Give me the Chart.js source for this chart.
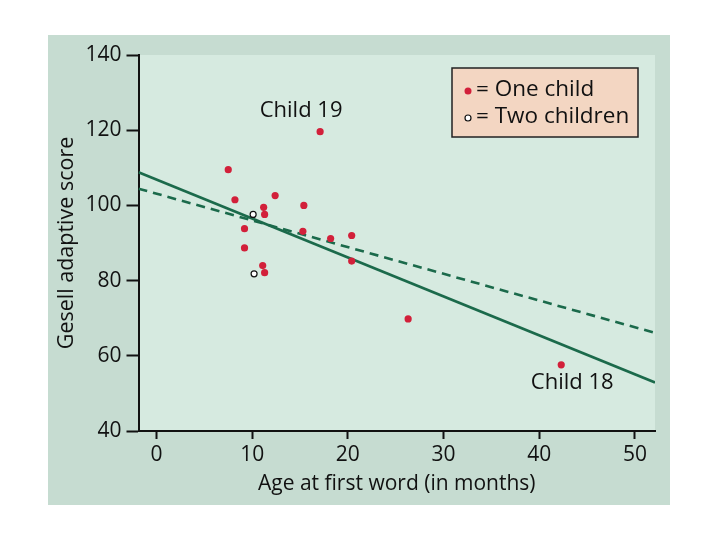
<!DOCTYPE html>
<html>
<head>
<meta charset="utf-8">
<script src="https://cdn.jsdelivr.net/npm/chart.js@4"></script>
<style>
html,body{margin:0;padding:0;background:#ffffff;}
#wrap{width:720px;height:540px;}
</style>
</head>
<body>
<div id="wrap"><canvas id="c" width="720" height="540"></canvas></div>
<script>
// ---- data ----
const oneChildAge   = [7.5, 8.2, 12.4, 11.2, 11.3, 15.4, 9.2, 15.3, 18.2, 20.4, 9.2, 20.4, 11.1, 11.3, 17.1, 26.3, 42.3];
const oneChildScore = [109.5, 101.5, 102.6, 99.5, 97.6, 100.0, 93.8, 93.1, 91.2, 92.0, 88.7, 85.2, 84.0, 82.1, 119.6, 69.8, 57.6];
const twoChildAge   = [10.1, 10.2];
const twoChildScore = [97.6, 81.8];
const fitAllX   = [-1.88, 52.1];
const fitAllY   = [108.8, 52.9];
const fitDashX  = [-1.88, 52.1];
const fitDashY  = [104.45, 66.1];
const xTickValues = [0, 10, 20, 30, 40, 50];
const yTickValues = [40, 60, 80, 100, 120, 140];
const annotationLabels = ['Child 19', 'Child 18'];
const annotationIndex  = [14, 16];
const legendLabels = ['= One child', '= Two children'];
const xTitle = 'Age at first word (in months)';
const yTitle = 'Gesell adaptive score';

const FONT = "'Open Sans', 'Noto Sans', sans-serif";
const RED = '#d2203a';
const GREEN = '#1b6a4b';

const toPts = (xs, ys) => xs.map((x, i) => ({x: x, y: ys[i]}));

const bgPlugin = {
  id: 'bg',
  beforeDraw(chart) {
    const {ctx, chartArea: a} = chart;
    ctx.save();
    ctx.fillStyle = '#ffffff';
    ctx.fillRect(0, 0, chart.width, chart.height);
    ctx.fillStyle = '#c6dcd1';
    ctx.fillRect(48, 35, 622, 470);
    ctx.fillStyle = '#d6eae0';
    ctx.fillRect(a.left, a.top, a.right - a.left, a.bottom - a.top);
    ctx.restore();
  }
};

const textPlugin = {
  id: 'texts',
  afterDraw(chart) {
    const {ctx} = chart;
    const xs = chart.scales.x, ys = chart.scales.y;
    ctx.save();
    // annotations
    const offs = [[-19, -21], [11, 18]];
    ctx.font = '22px ' + FONT;
    ctx.fillStyle = '#111';
    ctx.textAlign = 'center';
    ctx.textBaseline = 'middle';
    annotationLabels.forEach((t, k) => {
      const i = annotationIndex[k];
      const px = xs.getPixelForValue(oneChildAge[i]);
      const py = ys.getPixelForValue(oneChildScore[i]);
      ctx.fillText(t, px + offs[k][0], py + offs[k][1]);
    });
    // legend
    ctx.fillStyle = '#f3d6c2';
    ctx.fillRect(452, 68, 186, 69);
    ctx.strokeStyle = '#222';
    ctx.lineWidth = 1.5;
    ctx.strokeRect(452, 68, 186, 69);
    ctx.fillStyle = RED;
    ctx.beginPath(); ctx.arc(468, 91, 3.5, 0, Math.PI * 2); ctx.fill();
    ctx.fillStyle = '#ffffff';
    ctx.strokeStyle = '#111';
    ctx.lineWidth = 1.2;
    ctx.beginPath(); ctx.arc(468, 118, 3, 0, Math.PI * 2); ctx.fill(); ctx.stroke();
    ctx.fillStyle = '#111';
    ctx.textAlign = 'left';
    ctx.font = '22.5px ' + FONT;
    ctx.fillText(legendLabels[0], 476, 90);
    ctx.fillText(legendLabels[1], 476, 117);
    ctx.restore();
  }
};

new Chart(document.getElementById('c'), {
  type: 'scatter',
  data: {
    datasets: [
      {
        label: 'One child',
        data: toPts(oneChildAge, oneChildScore),
        backgroundColor: RED,
        borderColor: RED,
        borderWidth: 0,
        pointRadius: 3.6
      },
      {
        label: 'Two children',
        data: toPts(twoChildAge, twoChildScore),
        backgroundColor: '#ffffff',
        borderColor: '#111',
        borderWidth: 1.2,
        pointRadius: 3
      },
      {
        label: 'Fit (all)',
        type: 'line',
        data: toPts(fitAllX, fitAllY),
        borderColor: GREEN,
        borderWidth: 2.6,
        pointRadius: 0,
        fill: false
      },
      {
        label: 'Fit (dashed)',
        type: 'line',
        data: toPts(fitDashX, fitDashY),
        borderColor: GREEN,
        borderWidth: 2.6,
        borderDash: [9, 6],
        pointRadius: 0,
        fill: false
      }
    ]
  },
  options: {
    responsive: false,
    animation: false,
    devicePixelRatio: 1,
    layout: {padding: {left: 48, right: 65, top: 55, bottom: 35}},
    plugins: {legend: {display: false}, tooltip: {enabled: false}},
    scales: {
      x: {
        type: 'linear',
        min: -1.88,
        max: 52.1,
        afterBuildTicks(s) { s.ticks = xTickValues.map(v => ({value: v})); },
        afterFit(s) { s.height = 74; },
        grid: {drawOnChartArea: false, drawTicks: true, tickLength: 8, tickColor: '#111', tickWidth: 2},
        border: {display: true, color: '#111', width: 2},
        ticks: {color: '#111', font: {family: FONT, size: 21}, padding: 3, maxRotation: 0},
        title: {display: true, text: xTitle, color: '#111', font: {family: FONT, size: 21}, padding: {top: 0, bottom: 8}}
      },
      y: {
        type: 'linear',
        min: 40,
        max: 140,
        afterBuildTicks(s) { s.ticks = yTickValues.map(v => ({value: v})); },
        afterFit(s) { s.width = 90.5; },
        grid: {drawOnChartArea: false, drawTicks: true, tickLength: 12, tickColor: '#111', tickWidth: 2},
        border: {display: true, color: '#111', width: 2},
        ticks: {color: '#111', font: {family: FONT, size: 21}, padding: 5},
        title: {display: true, text: yTitle, color: '#111', font: {family: FONT, size: 21.5}, padding: {top: 6, bottom: 0}}
      }
    }
  },
  plugins: [bgPlugin, textPlugin]
});
</script>
</body>
</html>
